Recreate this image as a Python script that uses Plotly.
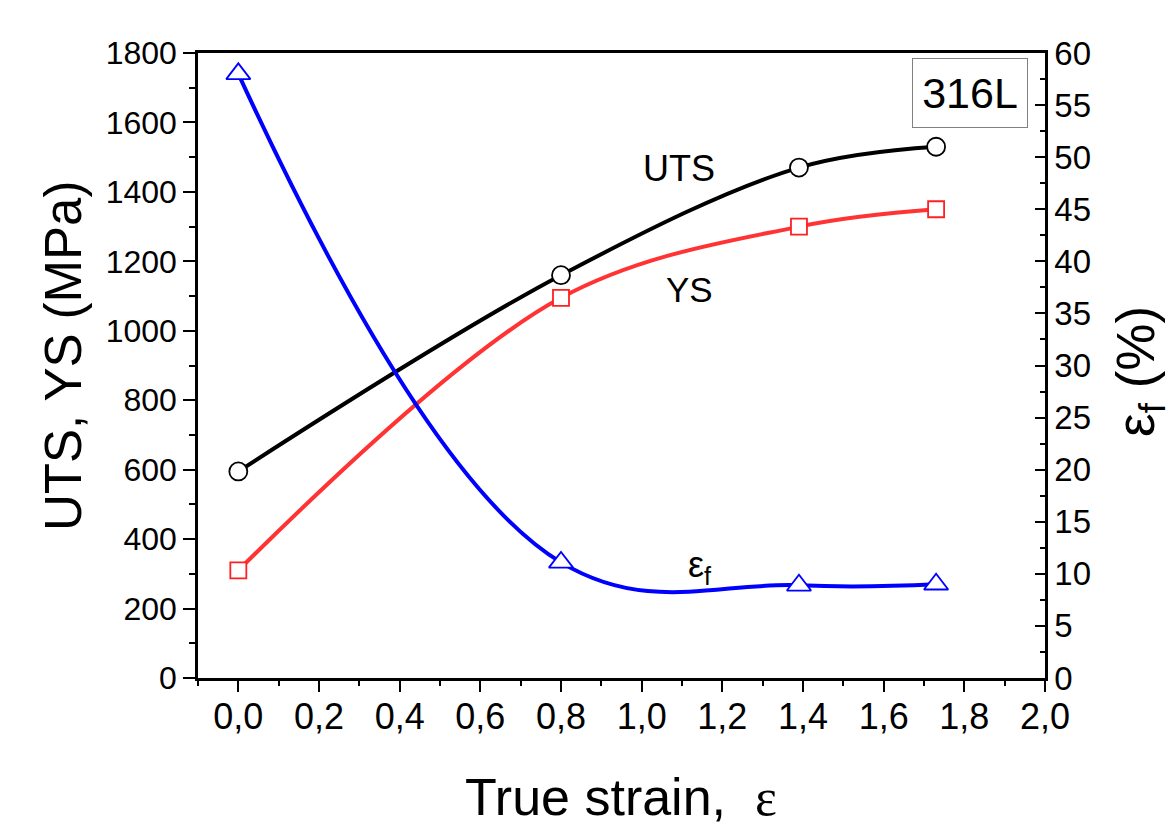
import plotly.graph_objects as go

# ---- data ----
strain = [0.0, 0.8, 1.39, 1.73]
uts = [595, 1160, 1470, 1530]
ys = [310, 1095, 1300, 1350]
ef = [58.0, 11.1, 8.9, 9.0]

x_tickvals = [0.0, 0.2, 0.4, 0.6, 0.8, 1.0, 1.2, 1.4, 1.6, 1.8, 2.0]
x_ticktext = ["0,0", "0,2", "0,4", "0,6", "0,8", "1,0", "1,2", "1,4", "1,6", "1,8", "2,0"]
y_tickvals = [0, 200, 400, 600, 800, 1000, 1200, 1400, 1600, 1800]
y2_tickvals = [0, 5, 10, 15, 20, 25, 30, 35, 40, 45, 50, 55, 60]

FONT = "Arial, 'Liberation Sans', sans-serif"

# plot-area geometry in pixels (for annotation placement)
W, H = 1170, 827
L, R, T, B = 198, 125, 53, 149
PW, PH = W - L - R, H - T - B


def px(x):
    return (x - L) / PW


def py(y):
    return (H - B - y) / PH


fig = go.Figure()

fig.add_trace(go.Scatter(
    x=strain, y=uts, mode="lines+markers", name="UTS",
    line=dict(color="black", width=4, shape="spline"),
    marker=dict(symbol="circle", size=18, color="white",
                line=dict(color="black", width=1.8)),
    cliponaxis=False,
))
fig.add_trace(go.Scatter(
    x=strain, y=ys, mode="lines+markers", name="YS",
    line=dict(color="#FF3333", width=4, shape="spline"),
    marker=dict(symbol="square", size=16, color="white",
                line=dict(color="#FF2020", width=1.8)),
    cliponaxis=False,
))
fig.add_trace(go.Scatter(
    x=strain, y=ef, mode="lines+markers", name="εf", yaxis="y2",
    line=dict(color="#0000FF", width=4, shape="spline", smoothing=1.15),
    marker=dict(symbol="triangle-up", size=21, color="white",
                line=dict(color="#0000FF", width=1.8)),
    cliponaxis=False,
))

axis_common = dict(
    showline=True, linecolor="black", linewidth=2.5,
    showgrid=False, zeroline=False,
    tickcolor="black", tickwidth=2,
)


def ann(text, x, y, size, **kw):
    d = dict(text=text, x=px(x), y=py(y), xref="paper", yref="paper",
             xanchor="center", yanchor="middle", showarrow=False,
             font=dict(size=size, family=FONT, color="black"))
    d.update(kw)
    return d


fig.update_layout(
    width=W, height=H,
    margin=dict(l=L, r=R, t=T, b=B, pad=0),
    paper_bgcolor="white", plot_bgcolor="white",
    showlegend=False,
    font=dict(family=FONT, color="black"),
    xaxis=dict(
        **axis_common,
        range=[-0.1, 2.0], mirror=True,
        ticks="outside", ticklen=11,
        tickvals=x_tickvals, ticktext=x_ticktext,
        tickfont=dict(size=36, family=FONT),
        ticklabelstandoff=-6,
        minor=dict(ticks="outside", ticklen=5, tickwidth=2, tickcolor="black",
                   dtick=0.1, tick0=-0.1),
    ),
    yaxis=dict(
        **axis_common,
        range=[0, 1800],
        ticks="outside", ticklen=12,
        tickvals=y_tickvals,
        tickfont=dict(size=32, family=FONT),
        minor=dict(ticks="outside", ticklen=6, tickwidth=2, tickcolor="black",
                   dtick=100, tick0=0),
    ),
    yaxis2=dict(
        **axis_common,
        range=[0, 60], overlaying="y", side="right",
        ticks="inside", ticklen=10,
        tickvals=y2_tickvals,
        tickfont=dict(size=33, family=FONT),
        minor=dict(ticks="inside", ticklen=5, tickwidth=2, tickcolor="black",
                   dtick=2.5, tick0=0),
    ),
    annotations=[
        ann("UTS", 679, 168, 36),
        ann("YS", 689, 289, 35),
        ann("ε<sub>f</sub>", 700, 567, 36),
        ann("316L", 970, 93, 43, bordercolor="#808080", borderwidth=1,
            bgcolor="white", width=112, height=66),
        ann("UTS, YS (MPa)", 63, 356, 51, textangle=-90),
        ann("ε<sub>f</sub> (%)", 1139, 372, 53, textangle=-90),
        ann("True strain,  <span style='font-family:Liberation Serif'>ε</span>",
            621, 797, 52),
    ],
)

fig.write_html("out.html")
